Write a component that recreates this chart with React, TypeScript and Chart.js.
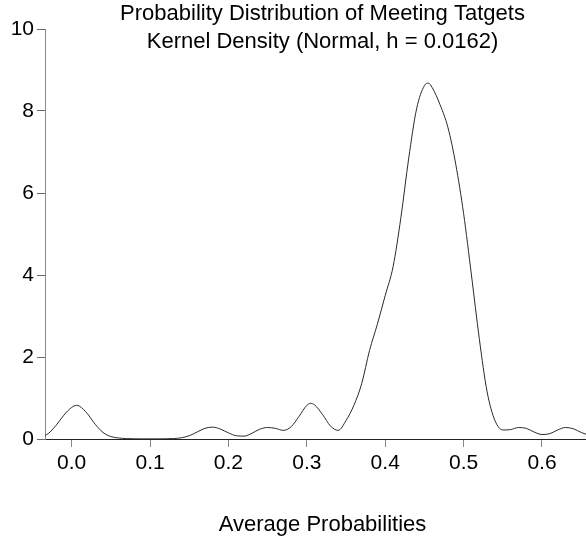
import React, { useEffect, useRef } from "react";
import { Chart, registerables } from "chart.js";

Chart.register(...registerables);

const titleLines = ["Probability Distribution of Meeting Tatgets", "Kernel Density (Normal, h = 0.0162)"];
const xAxisTitle = "Average Probabilities";

const xValues = [
  -0.034, -0.03, -0.02, -0.01, 0.0, 0.006, 0.01, 0.02, 0.03, 0.04, 0.05, 0.06, 0.07, 0.08, 0.09, 0.1,
  0.11, 0.12, 0.13, 0.14, 0.15, 0.16, 0.17, 0.18, 0.19, 0.2, 0.21, 0.22, 0.23, 0.24, 0.25, 0.26, 0.27,
  0.28, 0.29, 0.3, 0.305, 0.31, 0.32, 0.33, 0.34, 0.35, 0.36, 0.37, 0.38, 0.39, 0.4, 0.41, 0.42, 0.43,
  0.44, 0.45, 0.455, 0.46, 0.47, 0.48, 0.49, 0.5, 0.51, 0.52, 0.53, 0.54, 0.55, 0.56, 0.57, 0.58, 0.59,
  0.6, 0.61, 0.62, 0.63, 0.64, 0.65, 0.657,
];

const densityValues = [
  0.09, 0.13, 0.33, 0.58, 0.77, 0.82, 0.8, 0.62, 0.36, 0.16, 0.06, 0.025, 0.01, 0.005, 0.003, 0.003,
  0.003, 0.005, 0.01, 0.03, 0.08, 0.17, 0.26, 0.29, 0.24, 0.15, 0.08, 0.07, 0.14, 0.24, 0.28, 0.26, 0.21,
  0.3, 0.55, 0.82, 0.87, 0.83, 0.6, 0.32, 0.21, 0.45, 0.82, 1.35, 2.16, 2.8, 3.5, 4.2, 5.4, 6.85,
  8.05, 8.62, 8.68, 8.57, 8.15, 7.6, 6.7, 5.5, 4.0, 2.45, 1.15, 0.45, 0.22, 0.23, 0.28, 0.26, 0.17,
  0.11, 0.13, 0.22, 0.28, 0.25, 0.16, 0.11,
];

const xMin = -0.034;
const xMax = 0.674;
const xStep = 0.1;
const yMin = 0;
const yMax = 10;
const yStep = 2;

export default function App() {
  const canvasRef = useRef<HTMLCanvasElement | null>(null);

  useEffect(() => {
    document.body.style.margin = "0";
    const canvas = canvasRef.current;
    if (!canvas) return;
    const fontFamily = "'Liberation Sans', Arial, sans-serif";
    Chart.defaults.font.family = fontFamily;
    Chart.defaults.color = "#000";

    const chart = new Chart(canvas, {
      type: "line",
      data: {
        datasets: [
          {
            data: xValues.map((x, i) => ({ x, y: densityValues[i] })),
            borderColor: "#2a2a2a",
            borderWidth: 1,
            pointRadius: 0,
            fill: false,
            cubicInterpolationMode: "monotone",
            tension: 0.4,
          },
        ],
      },
      options: {
        animation: false,
        responsive: false,
        layout: { padding: 0 },
        plugins: {
          legend: { display: false },
          tooltip: { enabled: false },
          title: {
            display: true,
            text: titleLines,
            fullSize: false,
            color: "#000",
            font: { size: 22, weight: "normal", lineHeight: "28px", family: fontFamily },
            padding: { top: 0, bottom: -27 },
          },
        },
        scales: {
          x: {
            type: "linear",
            min: xMin,
            max: xMax,
            afterFit: (s: any) => {
              s.height = 103;
            },
            ticks: {
              stepSize: xStep,
              includeBounds: false,
              padding: 4,
              color: "#000",
              font: { size: 21, family: fontFamily },
              callback: (v: any) => Number(v).toFixed(1),
            },
            grid: {
              drawOnChartArea: false,
              drawTicks: true,
              tickLength: 8,
              tickColor: "#888",
            },
            border: { display: true, color: "#222", width: 1 },
            title: {
              display: true,
              text: xAxisTitle,
              color: "#000",
              font: { size: 22, family: fontFamily },
              padding: { top: 0, bottom: 4 },
            },
          },
          y: {
            type: "linear",
            min: yMin,
            max: yMax,
            afterFit: (s: any) => {
              s.width = 45;
            },
            ticks: {
              stepSize: yStep,
              padding: 3,
              color: "#000",
              font: { size: 21, family: fontFamily },
            },
            grid: {
              drawOnChartArea: false,
              drawTicks: true,
              tickLength: 8,
              tickColor: "#666",
            },
            border: { display: true, color: "#888", width: 1 },
          },
        },
      },
    });
    return () => chart.destroy();
  }, []);

  return (
    <div style={{ width: 586, height: 542, overflow: "hidden" }}>
      <canvas ref={canvasRef} width={600} height={542} style={{ display: "block" }} />
    </div>
  );
}
